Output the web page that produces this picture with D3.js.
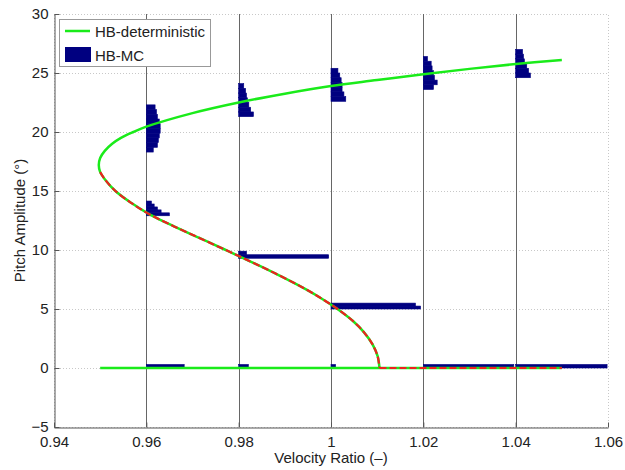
<!DOCTYPE html>
<html>
<head>
<meta charset="utf-8">
<title>HB deterministic vs HB-MC</title>
<style>
  body { margin: 0; background: #fff; }
  svg { display: block; font-family: "Liberation Sans", Arial, Helvetica, sans-serif; }
  .tick text { font-size: 15px; fill: #222; }
</style>
<script src="https://d3js.org/d3.v7.min.js"></script>
</head>
<body>
<script>
// axis ticks
const xTicks = [0.94, 0.96, 0.98, 1, 1.02, 1.04, 1.06];
const yTicks = [-5, 0, 5, 10, 15, 20, 25, 30];

// HB-deterministic, stable upper branch (from the fold)
const upperX = [0.9497, 0.9500, 0.9510, 0.9526, 0.9545, 0.9572, 0.960, 0.970, 0.980, 0.990, 1.000, 1.010, 1.020, 1.030, 1.040, 1.050];
const upperY = [17.2, 17.8, 18.4, 19.0, 19.5, 20.0, 20.45, 21.6, 22.5, 23.25, 23.9, 24.4, 24.9, 25.35, 25.76, 26.1];

// unstable branch, fold down to the Hopf point
const unstableX = [0.9497, 0.9500, 0.9510, 0.9533, 0.9567, 0.9608, 0.9660, 0.9716, 0.9772, 0.9827, 0.9880, 0.9930, 0.9975, 1.0014, 1.0047, 1.0072, 1.0090, 1.0101, 1.0105];
const unstableY = [17.2, 16.6, 16, 15, 14, 13, 12, 11, 10, 9, 8, 7, 6, 5, 4, 3, 2, 1, 0];

// zero branch: stable up to the Hopf point, unstable beyond
const zeroStableX = [0.95, 1.0105];
const zeroUnstableX = [1.0105, 1.05];

// HB-MC histograms: base velocity, first bin edge, bin height, bar lengths
const mcX = [0.96, 0.96, 0.96, 0.98, 0.98, 0.98, 1.00, 1.00, 1.00, 1.02, 1.02, 1.04, 1.04];
const mcY0 = [18.3, 12.9, 0, 21.3, 9.3, 0, 22.6, 5.0, 0, 23.6, 0, 24.6, 0];
const mcBin = [0.4, 0.25, 0.3, 0.4, 0.3, 0.3, 0.4, 0.25, 0.3, 0.4, 0.3, 0.4, 0.3];
const mcLen = [
  [0.0015, 0.0024, 0.0026, 0.0028, 0.0030, 0.0030, 0.0028, 0.0024, 0.0022, 0.0019],
  [0.0050, 0.0032, 0.0024, 0.0017, 0.0011],
  [0.0082],
  [0.0032, 0.0026, 0.0022, 0.0019, 0.0017, 0.0015, 0.0011],
  [0.0195, 0.0017],
  [0.0021],
  [0.0032, 0.0028, 0.0024, 0.0024, 0.0022, 0.0019, 0.0015],
  [0.0194, 0.0183],
  [0.0010],
  [0.0022, 0.0030, 0.0024, 0.0022, 0.0019, 0.0017, 0.0009],
  [0.0196],
  [0.0032, 0.0028, 0.0024, 0.0019, 0.0017, 0.0015],
  [0.0198]
];
const refLines = [0.96, 0.98, 1.00, 1.02, 1.04];

const W = 625, H = 470;
const m = { left: 54, right: 17, top: 14, bottom: 43 };

const GREEN = "#1aeb1a", RED = "#ee2020", NAVY = "#000080";

const svg = d3.select("body").append("svg")
  .attr("width", W).attr("height", H);

const x = d3.scaleLinear().domain([0.94, 1.06]).range([m.left, W - m.right]);
const y = d3.scaleLinear().domain([-5, 30]).range([H - m.bottom, m.top]);

// dotted grid
const grid = svg.append("g").attr("stroke", "#c8c8c8").attr("stroke-dasharray", "1,2").attr("stroke-width", 1);
yTicks.forEach(v => {
  grid.append("line").attr("x1", x(0.94)).attr("x2", x(1.06))
    .attr("y1", Math.round(y(v)) + 0.5).attr("y2", Math.round(y(v)) + 0.5);
});
xTicks.forEach(v => {
  grid.append("line").attr("x1", Math.round(x(v)) + 0.5).attr("x2", Math.round(x(v)) + 0.5)
    .attr("y1", y(-5)).attr("y2", y(30));
});

// solid lines at the MC sample velocities
svg.append("g").selectAll("line").data(refLines).join("line")
  .attr("x1", d => Math.round(x(d)) + 0.5).attr("x2", d => Math.round(x(d)) + 0.5)
  .attr("y1", y(-5)).attr("y2", y(30))
  .attr("stroke", "#666").attr("stroke-width", 1);

// histograms
const bars = [];
mcX.forEach((vx, i) => {
  mcLen[i].forEach((len, j) => {
    bars.push({ x0: vx, len: len, y0: mcY0[i] + j * mcBin[i], y1: mcY0[i] + (j + 1) * mcBin[i] });
  });
});
svg.append("g").selectAll("rect").data(bars).join("rect")
  .attr("x", d => x(d.x0))
  .attr("width", d => x(d.x0 + d.len) - x(d.x0))
  .attr("y", d => y(d.y1))
  .attr("height", d => y(d.y0) - y(d.y1))
  .attr("fill", NAVY)
  .attr("stroke", NAVY).attr("stroke-width", 0.6);

// deterministic curves
const smooth = d3.line().x(d => x(d[0])).y(d => y(d[1])).curve(d3.curveCatmullRom.alpha(0.5));
const lineLin = d3.line().x(d => x(d[0])).y(d => y(d[1]));

const upperPts = upperX.map((v, i) => [v, upperY[i]]).reverse();
const unstablePts = unstableX.map((v, i) => [v, unstableY[i]]);
const fullPts = upperPts.concat(unstablePts.slice(1));

svg.append("path").datum(fullPts)
  .attr("d", smooth)
  .attr("fill", "none").attr("stroke", GREEN).attr("stroke-width", 2.5);
svg.append("path").datum([[zeroStableX[0], 0], [zeroUnstableX[1], 0]])
  .attr("d", lineLin)
  .attr("fill", "none").attr("stroke", GREEN).attr("stroke-width", 2.5);

// unstable overlay (red dashed)
svg.append("path").datum(unstablePts.slice(1))
  .attr("d", smooth)
  .attr("fill", "none").attr("stroke", RED).attr("stroke-width", 2.2)
  .attr("stroke-dasharray", "7,3");
svg.append("path").datum(zeroUnstableX.map(v => [v, 0]))
  .attr("d", lineLin)
  .attr("fill", "none").attr("stroke", RED).attr("stroke-width", 2.2)
  .attr("stroke-dasharray", "7,3");

// axes
const xAxis = svg.append("g").attr("transform", `translate(0,${Math.round(y(-5)) + 0.5})`)
  .call(d3.axisBottom(x).tickValues(xTicks).tickSizeInner(-5).tickSizeOuter(0).tickPadding(9)
    .tickFormat(d => d === 1 ? "1" : d3.format(".2f")(d)));
xAxis.select(".domain").attr("stroke", "#555");
xAxis.selectAll(".tick line").attr("stroke", "#555");

const yAxis = svg.append("g").attr("transform", `translate(${Math.round(x(0.94)) + 0.5},0)`)
  .call(d3.axisLeft(y).tickValues(yTicks).tickSizeInner(-5).tickSizeOuter(0).tickPadding(6)
    .tickFormat(d => d < 0 ? "\u2212" + Math.abs(d) : d));
yAxis.select(".domain").attr("stroke", "#555");
yAxis.selectAll(".tick line").attr("stroke", "#555");

// axis labels
svg.append("text").attr("x", x(1.0)).attr("y", 463)
  .attr("text-anchor", "middle").attr("font-size", 15).attr("fill", "#222")
  .text("Velocity Ratio (\u2013)");
svg.append("text")
  .attr("transform", `translate(25,${(y(-5) + y(30)) / 2}) rotate(-90)`)
  .attr("text-anchor", "middle").attr("font-size", 15).attr("fill", "#222")
  .text("Pitch Amplitude (\u00b0)");

// legend
const lg = svg.append("g");
lg.append("rect").attr("x", 59.5).attr("y", 19.5).attr("width", 151).attr("height", 47)
  .attr("fill", "#fff").attr("stroke", "#999");
lg.append("line").attr("x1", 65).attr("x2", 90).attr("y1", 31).attr("y2", 31)
  .attr("stroke", GREEN).attr("stroke-width", 2.5);
lg.append("text").attr("x", 95).attr("y", 36.5).attr("font-size", 15).attr("fill", "#222")
  .text("HB-deterministic");
lg.append("rect").attr("x", 65).attr("y", 47).attr("width", 26).attr("height", 15)
  .attr("fill", NAVY);
lg.append("text").attr("x", 95).attr("y", 60.5).attr("font-size", 15).attr("fill", "#222")
  .text("HB-MC");
</script>
</body>
</html>
